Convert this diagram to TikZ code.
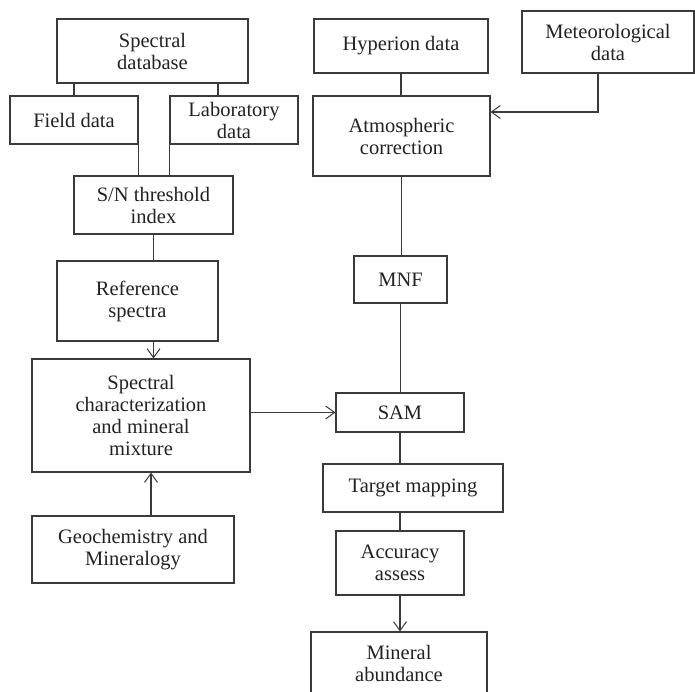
\documentclass[tikz,border=0pt]{standalone}
\usepackage{fontspec}
\setmainfont{Liberation Serif}
\usetikzlibrary{arrows.meta}
\definecolor{ln}{HTML}{3A3A3A}
\definecolor{tx}{HTML}{222222}
\begin{document}
\begin{tikzpicture}[x=1pt,y=-1pt,
  box/.style={draw=ln,line width=1.1pt,rectangle,inner sep=0pt,align=center,
    text=tx,font=\fontsize{20.5}{22}\selectfont},
  conn/.style={draw=ln,line width=1.1pt},
  arr/.style={conn,-{Straight Barb[length=9pt,width=13pt,line width=1pt]}}]
\clip (0,0) rectangle (695,691);
\fill[white] (0,0) rectangle (695,691);
% left column
\node[box,minimum width=191pt,minimum height=64pt] (sdb) at (152.5,51) {Spectral\\database};
\node[box,minimum width=128pt,minimum height=48pt] (field) at (74,120) {Field data};
\node[box,minimum width=128pt,minimum height=48pt] (lab) at (234,120) {Laboratory\\data};
\node[box,minimum width=159pt,minimum height=58pt] (sn) at (153.5,205) {S/N threshold\\index};
\node[box,minimum width=161pt,minimum height=80pt] (ref) at (137.5,301) {Reference\\spectra};
\node[box,minimum width=218pt,minimum height=113pt] (spc) at (141,415.5) {Spectral\\characterization\\and mineral\\mixture};
\node[box,minimum width=202pt,minimum height=67pt] (geo) at (133,549.5) {Geochemistry and\\Mineralogy};
% right column
\node[box,minimum width=174pt,minimum height=54pt] (hyp) at (401,46) {Hyperion data};
\node[box,minimum width=172pt,minimum height=62pt] (met) at (608,42) {Meteorological\\data};
\node[box,minimum width=177pt,minimum height=80pt] (atm) at (401.5,136) {Atmospheric\\correction};
\node[box,minimum width=93pt,minimum height=47pt] (mnf) at (400.5,279.5) {MNF};
\node[box,minimum width=128pt,minimum height=39pt] (sam) at (400,412.5) {SAM};
\node[box,minimum width=180pt,minimum height=48pt] (tgt) at (413,488) {Target mapping};
\node[box,minimum width=128pt,minimum height=64pt] (acc) at (400,563) {Accuracy\\assess};
\node[box,minimum width=176pt,minimum height=63pt] (min) at (399,663.5) {Mineral\\abundance};
% connectors left
\draw[conn] (sdb.south -| field) -- (field.north);
\draw[conn] ([xshift=-16pt]lab.north |- sdb.south) -- ([xshift=-16pt]lab.north);
\draw[conn] (field.south east) -- (field.south east |- sn.north);
\draw[conn] (lab.south west) -- (lab.south west |- sn.north);
\draw[conn] (sn.south) -- (sn.south |- ref.north);
\draw[arr] (sn.south |- ref.south) -- (sn.south |- spc.north);
\draw[arr] ([xshift=18pt]geo.north) -- ([xshift=18pt]geo.north |- spc.south);
\draw[arr] (sam.west -| spc.east) -- (sam.west);
% connectors right
\draw[conn] (hyp.south) -- (hyp.south |- atm.north);
\draw[arr] ([xshift=-10pt]met.south) |- ([yshift=24pt]atm.east);
\draw[conn] (atm.south) -- (atm.south |- mnf.north);
\draw[conn] (mnf.south) -- (mnf.south |- sam.north);
\draw[conn] (sam.south) -- (sam.south |- tgt.north);
\draw[conn] (acc.north |- tgt.south) -- (acc.north);
\draw[arr] (acc.south) -- (acc.south |- min.north);
\end{tikzpicture}
\end{document}
